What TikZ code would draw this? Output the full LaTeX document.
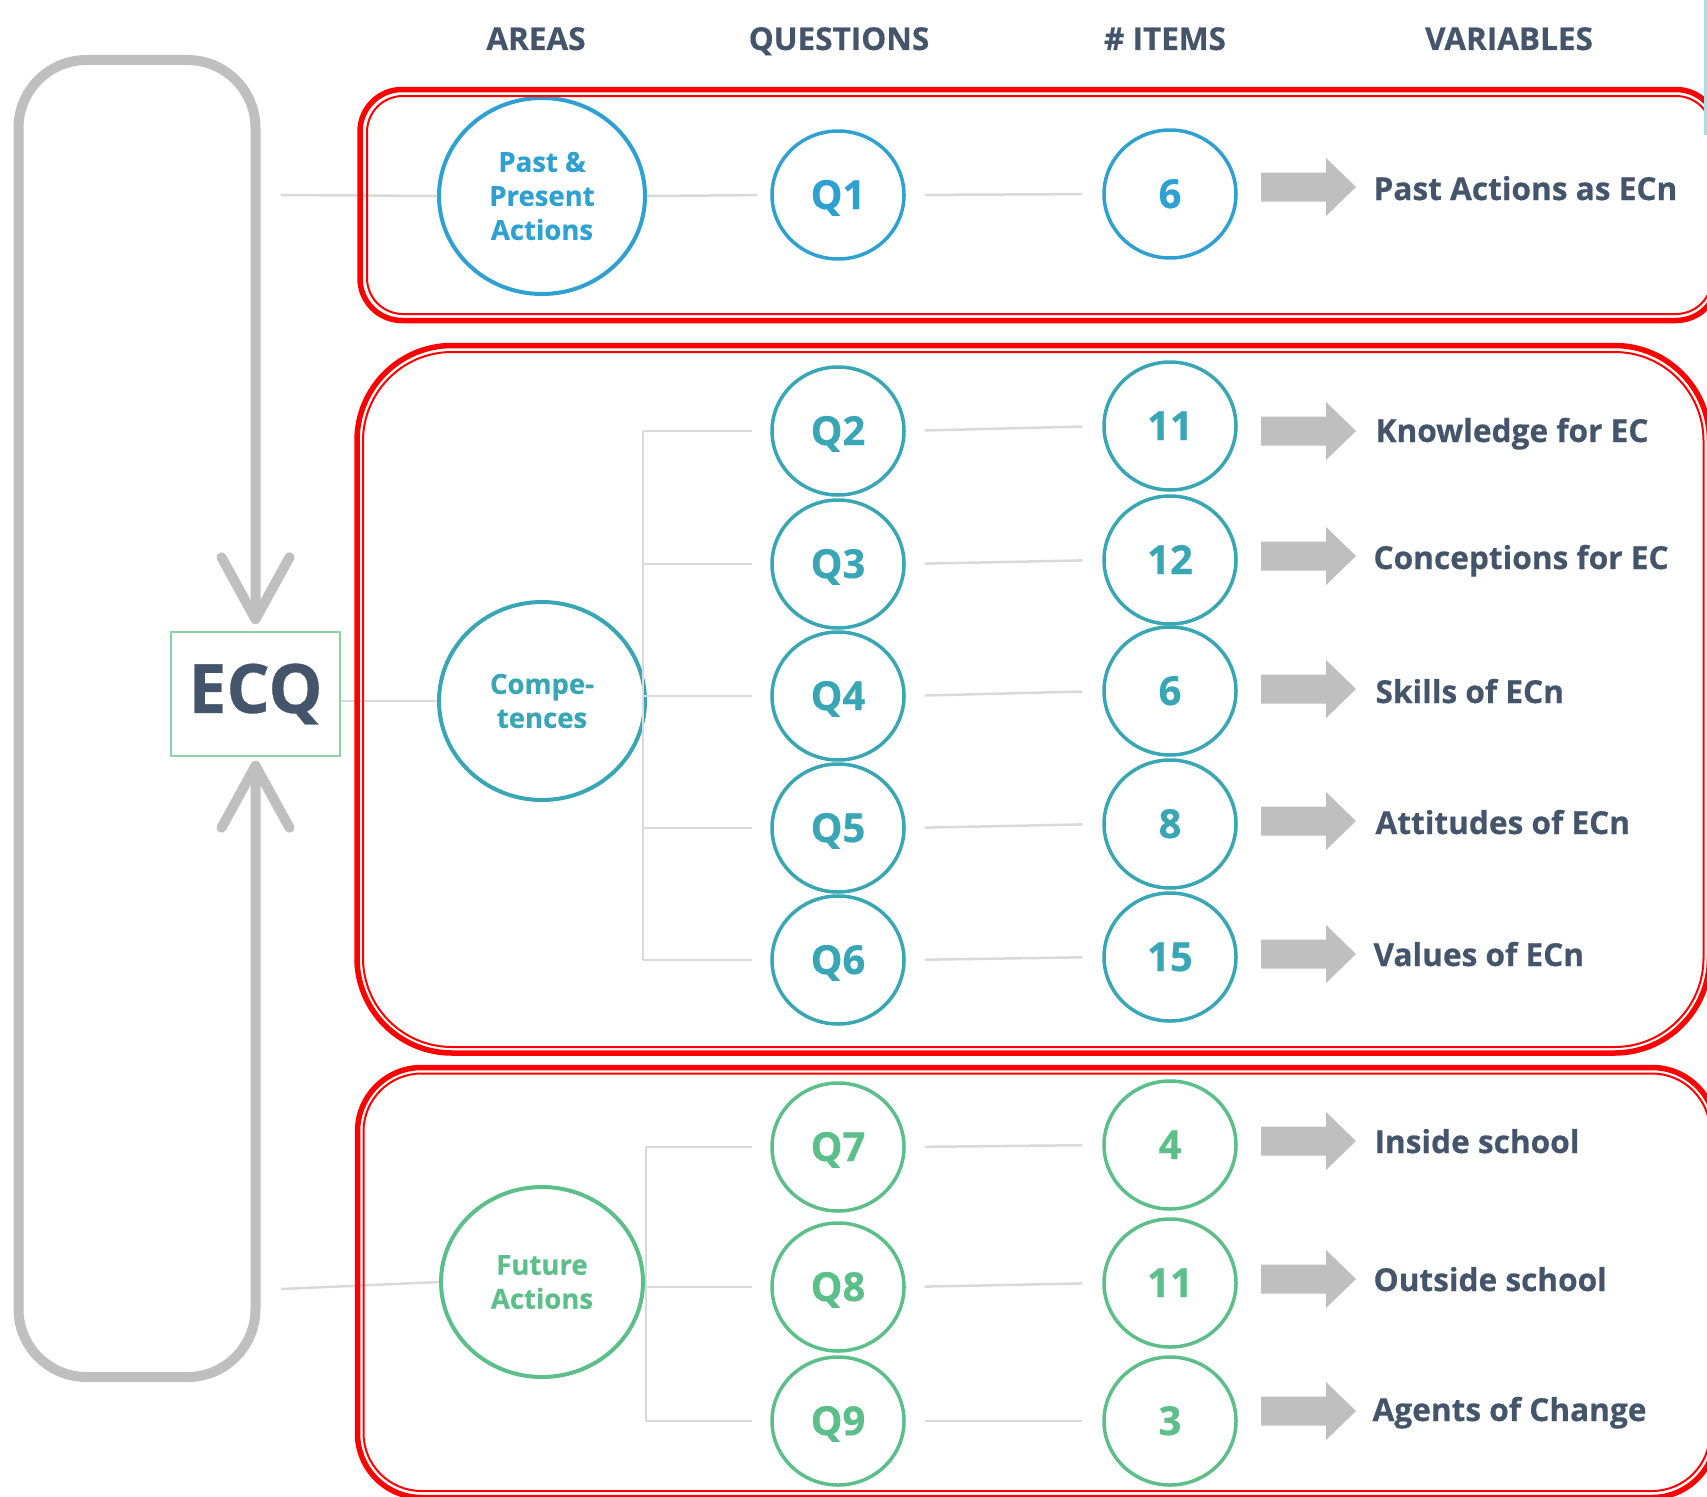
\documentclass[tikz,border=0pt]{standalone}
\usepackage{fontspec}
\setmainfont{Open Sans}[BoldFeatures={FakeBold=0.5}]
\usetikzlibrary{shapes.geometric,arrows.meta}
\definecolor{darktext}{HTML}{44546A}
\definecolor{cBlue}{HTML}{2FA0D2}
\definecolor{cTeal}{HTML}{38A6B4}
\definecolor{cGreen}{HTML}{5CBF8A}
\definecolor{loopGray}{HTML}{BFBFBF}
\definecolor{connGray}{HTML}{D9D9D9}
\definecolor{ecqGreen}{HTML}{8ED1A6}
\definecolor{redframe}{HTML}{FF0000}
\definecolor{lightcyan}{HTML}{A8DDE8}
\newcommand\myfs[2]{\fontsize{#1pt}{#2pt}\selectfont\bfseries}
\tikzset{mybarb/.tip={Straight Barb[length=62pt, width=68pt, round]}}
\begin{document}
\begin{tikzpicture}[x=1pt,y=-1pt,
  hdr/.style={font=\myfs{31.5}{36}, text=darktext, anchor=base},
  area/.style={ellipse, draw=#1, text=#1, line width=4pt, inner sep=0pt, align=center, font=\myfs{27.5}{34}},
  qc/.style={ellipse, draw=#1, text=#1, line width=3.5pt, minimum width=132pt, minimum height=128pt, inner sep=0pt, text height=28pt, text depth=0pt, font=\myfs{40}{42}},
  var/.style={anchor=base west, text=darktext, font=\myfs{31.6}{36}},
  conn/.style={draw=connGray, line width=2.5pt},
  redout/.style={draw=redframe, line width=5.5pt},
  redin/.style={draw=redframe, line width=2pt},
  loopline/.style={draw=loopGray, line width=10pt, rounded corners=68pt}
]
\useasboundingbox (0,0) rectangle (1707,1496);
\clip (0,0) rectangle (1707,1496);

% headers
\node[hdr] (hA) at (536,50) {AREAS};
\node[hdr] (hQ) at (839,50) {QUESTIONS};
\node[hdr] (hI) at (1165,50) {\# ITEMS};
\node[hdr] (hV) at (1509,50) {VARIABLES};

% ECQ
\node[draw=ecqGreen, line width=1.5pt, minimum width=169pt, minimum height=124pt, inner sep=0pt,
      text=darktext, font=\myfs{68}{72}] (ecq) at (255.5,694) {ECQ};

% area circles
\node[area=cBlue, minimum width=206pt, minimum height=196pt] (past) at (542,196) {Past \&\\Present\\Actions};
\node[area=cTeal, minimum width=206pt, minimum height=198pt] (comp) at (542,701) {Compe-\\tences};
\node[area=cGreen, minimum width=202pt, minimum height=190pt] (fut) at (542,1282) {Future\\Actions};

% question circles
\foreach \n/\t/\y/\c in {q1/Q1/195/cBlue, q2/Q2/431/cTeal, q3/Q3/564/cTeal, q4/Q4/696/cTeal,
  q5/Q5/828/cTeal, q6/Q6/960/cTeal, q7/Q7/1147/cGreen, q8/Q8/1287/cGreen, q9/Q9/1421/cGreen}
  \node[qc=\c] (\n) at (838,\y) {\t};

% item circles
\foreach \n/\t/\y/\c in {n1/6/194/cBlue, n2/11/426/cTeal, n3/12/560/cTeal, n4/6/691/cTeal,
  n5/8/824/cTeal, n6/15/957/cTeal, n7/4/1145/cGreen, n8/11/1283/cGreen, n9/3/1421/cGreen}
  \node[qc=\c] (\n) at (1170,\y) {\t};

% connectors
\coordinate (s1) at (281,195);
\coordinate (s3) at (281,1289);
\coordinate (tc) at (643,0);
\coordinate (tf) at (646,0);
\draw[conn] (s1) -- (past.west);
\draw[conn, shorten >=13pt] (past.east) -- (q1.west);
\draw[conn] (ecq.east |- comp.west) -- (comp.west);
\draw[conn] (tc |- q2.west) -- (tc |- q6.west);
\foreach \q in {q2,q3,q4,q5,q6}
  \draw[conn] (tc |- \q.west) -- ([xshift=-18pt]\q.west);
\draw[conn] (s3) -- (fut.west);
\draw[conn] (fut.east) -- (tf |- fut.east);
\draw[conn] (tf |- q7.west) -- (tf |- q9.west);
\foreach \q in {q7,q8,q9}
  \draw[conn] (tf |- \q.west) -- ([xshift=-18pt]\q.west);
\foreach \i in {1,...,9}
  \draw[conn, shorten <=19pt, shorten >=20pt] (q\i.east) -- (n\i.west);

% gray loop
\coordinate (lt) at (18.5,60);
\coordinate (lb) at (18.5,1377);
\draw[loopline, mybarb-mybarb, shorten <=7pt, shorten >=4pt]
  (ecq.north) -- (ecq.north |- lt) -- (lt) -- (lb) -- (ecq.south |- lb) -- (ecq.south);

% block arrows
\foreach \y in {187,431,556,689,821,954,1141,1279,1411}
  \fill[loopGray] (1261,\y-14.5) -- (1326,\y-14.5) -- (1326,\y-29) -- (1356,\y)
     -- (1326,\y+29) -- (1326,\y+14.5) -- (1261,\y+14.5) -- cycle;

% variables
\node[var] (v1) at (1370,200) {Past Actions as ECn};
\node[var] (v2) at (1372,442) {Knowledge for EC};
\node[var] (v3) at (1370,569) {Conceptions for EC};
\node[var] (v4) at (1372,703) {Skills of ECn};
\node[var] (v5) at (1372,834) {Attitudes of ECn};
\node[var] (v6) at (1370,966) {Values of ECn};
\node[var] (v7) at (1371,1153) {Inside school};
\node[var] (v8) at (1370,1291) {Outside school};
\node[var] (v9) at (1369,1421) {Agents of Change};

% red frames
\draw[redout, rounded corners=42pt] (360,89.5) rectangle (1718,320.5);
\draw[redin, rounded corners=36pt] (367,96) rectangle (1712,314);
\draw[redout, rounded corners=95pt] (357,345.5) rectangle (1709.5,1053);
\draw[redin, rounded corners=89pt] (363,352) rectangle (1703.5,1047);
\draw[redout, rounded corners=64pt] (357.5,1067.5) rectangle (1716,1497.5);
\draw[redin, rounded corners=58pt] (363.5,1073.5) rectangle (1710,1491);

% small cyan bar at top right
\fill[lightcyan] (1704,0) rectangle (1707,135);
\end{tikzpicture}
\end{document}
